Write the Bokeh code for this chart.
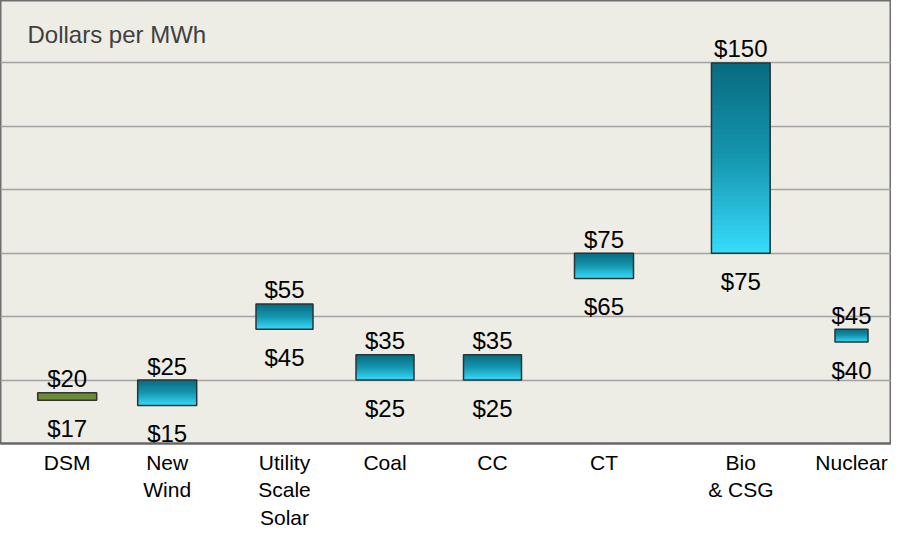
from bokeh.plotting import figure
from bokeh.models import Range1d, FixedTicker, ColumnDataSource
from bokeh.core.properties import value
from bokeh.embed import file_html
from bokeh.resources import INLINE

# ---- data ----
categories = ["DSM", "New\nWind", "Utility\nScale\nSolar", "Coal", "CC", "CT", "Bio\n& CSG", "Nuclear"]
low_values = [17, 15, 45, 25, 25, 65, 75, 40]
high_values = [20, 25, 55, 35, 35, 75, 150, 45]
grid_values = [25, 50, 75, 100, 125, 150]

# ---- layout (horizontal positions / widths in frame pixels) ----
x_pos = [66.7, 166.7, 284, 384.5, 492, 603.5, 740.3, 851]
bar_w = [59, 59, 57, 58, 58, 59, 58.7, 33]

W, H = 891, 531
FONT = "Liberation Sans"

p = figure(width=W, height=H, output_backend="svg", toolbar_location=None,
           x_range=Range1d(0, W), y_range=Range1d(0, 174.6),
           min_border_left=0, min_border_right=0, min_border_top=0,
           min_border_bottom=0)
p.background_fill_color = "#EDEDE5"
p.border_fill_color = "white"
p.outline_line_color = "#6E6E6E"
p.outline_line_width = 2

p.yaxis.visible = False
p.xgrid.visible = False
p.ygrid.ticker = FixedTicker(ticks=grid_values)
p.ygrid.grid_line_color = "#A3A3A3"
p.ygrid.grid_line_width = 1.5

ax = p.xaxis[0]
ax.ticker = FixedTicker(ticks=x_pos)
ax.major_label_overrides = {x: c for x, c in zip(x_pos, categories)}
ax.major_tick_line_color = None
ax.minor_tick_line_color = None
ax.major_tick_out = 0
ax.major_tick_in = 0
ax.minor_tick_out = 0
ax.minor_tick_in = 0
ax.axis_line_color = "#666666"
ax.axis_line_width = 2
ax.major_label_text_font = FONT
ax.major_label_text_font_size = "21px"
ax.major_label_text_color = "black"
ax.major_label_text_line_height = 1.2
ax.major_label_standoff = 7

# gradient bars built from nested slices (each reaches down to bar bottom)
top_rgb = (7, 107, 128)
mid_rgb = (22, 150, 175)
bot_rgb = (54, 220, 252)

def grad(t):  # t=0 top, t=1 bottom
    if t < 0.5:
        a, b, s = top_rgb, mid_rgb, t / 0.5
    else:
        a, b, s = mid_rgb, bot_rgb, (t - 0.5) / 0.5
    return "#%02x%02x%02x" % tuple(int(round(a[k] + (b[k] - a[k]) * s)) for k in range(3))

N = 40
sl, sr, sb, st, sc = [], [], [], [], []
for i, (x, w, lo, hi) in enumerate(zip(x_pos, bar_w, low_values, high_values)):
    if i == 0:
        continue
    for j in range(N):
        sl.append(x - w / 2)
        sr.append(x + w / 2)
        st.append(hi - (hi - lo) * j / N)
        sb.append(lo)
        sc.append(grad((j + 0.5) / N))
p.quad(left=sl, right=sr, bottom=sb, top=st, fill_color=sc, line_color=None)

# outlines for gradient bars
src = ColumnDataSource(dict(
    left=[x - w / 2 for x, w in zip(x_pos[1:], bar_w[1:])],
    right=[x + w / 2 for x, w in zip(x_pos[1:], bar_w[1:])],
    bottom=low_values[1:], top=high_values[1:]))
p.quad(left="left", right="right", bottom="bottom", top="top", source=src,
       fill_color=None, line_color="#2A3436", line_width=1.5)

# DSM bar (solid green)
p.quad(left=[x_pos[0] - bar_w[0] / 2], right=[x_pos[0] + bar_w[0] / 2],
       bottom=[low_values[0]], top=[high_values[0]],
       fill_color="#6A8C38", line_color="#333333", line_width=1.5)

# value labels
p.text(x=x_pos, y=high_values, text=["$%d" % v for v in high_values],
       text_font=value(FONT), text_font_size="24px", text_color="black",
       text_align="center", text_baseline="alphabetic", y_offset=-14)
p.text(x=x_pos, y=low_values, text=["$%d" % v for v in low_values],
       text_font=value(FONT), text_font_size="24px", text_color="black",
       text_align="center", text_baseline="alphabetic", y_offset=28)

# axis title inside the plot
p.text(x=[27], y=[161.2], text=["Dollars per MWh"],
       text_font=value(FONT), text_font_size="24px", text_color="#404040",
       text_align="left", text_baseline="alphabetic")

open("out.html", "w").write(file_html(p, INLINE))
